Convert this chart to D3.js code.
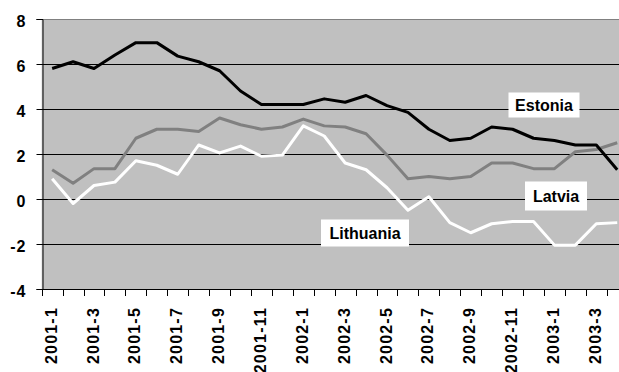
<!DOCTYPE html>
<html>
<head>
<meta charset="utf-8">
<script src="https://cdn.jsdelivr.net/npm/d3@7"></script>
<style>
  html, body { margin: 0; padding: 0; background: #fff; }
  svg { display: block; }
  svg text { font-family: "Liberation Sans", Arial, sans-serif; font-weight: 700; }
</style>
</head>
<body>
<svg id="chart" width="619" height="372"></svg>
<script>
// months shown on the category axis
var months = [
  '2001-1', '2001-2', '2001-3', '2001-4', '2001-5', '2001-6', '2001-7', '2001-8', '2001-9', '2001-10', '2001-11', '2001-12',
  '2002-1', '2002-2', '2002-3', '2002-4', '2002-5', '2002-6', '2002-7', '2002-8', '2002-9', '2002-10', '2002-11', '2002-12',
  '2003-1', '2003-2', '2003-3', '2003-4'
];

var estonia = [5.8, 6.1, 5.8, 6.4, 6.95, 6.95, 6.35, 6.1, 5.7, 4.8, 4.2, 4.2,
  4.2, 4.45, 4.3, 4.6, 4.15, 3.85, 3.1, 2.6, 2.7, 3.2, 3.1, 2.7,
  2.6, 2.4, 2.4, 1.3];

var latvia = [1.3, 0.7, 1.35, 1.35, 2.7, 3.1, 3.1, 3.0, 3.6, 3.3, 3.1, 3.2,
  3.55, 3.25, 3.2, 2.9, 1.95, 0.9, 1.0, 0.9, 1.0, 1.6, 1.6, 1.35,
  1.35, 2.1, 2.2, 2.5];

var lithuania = [0.9, -0.2, 0.6, 0.75, 1.7, 1.5, 1.1, 2.4, 2.05, 2.35, 1.9, 1.95,
  3.25, 2.8, 1.6, 1.3, 0.5, -0.5, 0.1, -1.05, -1.5, -1.1, -1.0, -1.0,
  -2.05, -2.05, -1.1, -1.05];

var yTicks = [-4, -2, 0, 2, 4, 6, 8];

var Chart = new function() {
  var left = 41.7, right = 627.7, top = 19, bottom = 289;
  var font = '"Liberation Sans", Arial, sans-serif';

  this.render = function() {
    var svg = d3.select('#chart');

    var x = d3.scaleBand().domain(months).range([left, right]);
    var y = d3.scaleLinear().domain([-4, 8]).range([bottom, top]);

    // plot background
    svg.append('rect')
      .attr('x', left).attr('y', top)
      .attr('width', right - left).attr('height', bottom - top)
      .attr('fill', '#c0c0c0');

    // gridlines
    svg.append('g').selectAll('line')
      .data(yTicks.filter(function(d) { return d > -4; }))
      .enter().append('line')
      .attr('x1', left).attr('x2', right)
      .attr('y1', function(d) { return Math.round(y(d)) + 0.5; })
      .attr('y2', function(d) { return Math.round(y(d)) + 0.5; })
      .attr('stroke', function(d) { return d === 8 ? '#808080' : '#000'; })
      .attr('stroke-width', 1);

    // y axis (plain hyphen for negatives, like the original)
    var yAxis = svg.append('g')
      .attr('transform', 'translate(' + (Math.round(left) + 0.5) + ',0)')
      .call(d3.axisLeft(y).tickValues(yTicks).tickSize(6).tickPadding(10)
        .tickFormat(function(d) { return String(d); }));
    yAxis.attr('font-family', font).attr('font-size', 16).attr('font-weight', 700);
    yAxis.select('.domain').attr('stroke', '#000');
    yAxis.selectAll('.tick line').attr('stroke', '#000');
    yAxis.selectAll('.tick text')
      .attr('font-size', 16).attr('font-weight', 700)
      .attr('font-family', font)
      .attr('letter-spacing', 1)
      .attr('fill', '#000').attr('dy', '0.45em');

    // x axis line and ticks at band edges
    var xAxis = svg.append('g');
    xAxis.append('line')
      .attr('x1', left).attr('x2', right)
      .attr('y1', Math.round(bottom) + 0.5).attr('y2', Math.round(bottom) + 0.5)
      .attr('stroke', '#000');
    xAxis.selectAll('line.tk')
      .data(months.concat(['end']))
      .enter().append('line')
      .attr('class', 'tk')
      .attr('x1', function(d) { return Math.round(d === 'end' ? right : x(d)) + 0.5; })
      .attr('x2', function(d) { return Math.round(d === 'end' ? right : x(d)) + 0.5; })
      .attr('y1', bottom).attr('y2', bottom + 7)
      .attr('stroke', '#000');

    xAxis.selectAll('text')
      .data(months.filter(function(d, i) { return i % 2 === 0; }))
      .enter().append('text')
      .attr('transform', function(d) {
        return 'translate(' + (x(d) + x.bandwidth() / 2 + 4.5) + ',307) rotate(-90)';
      })
      .attr('text-anchor', 'end')
      .attr('font-family', font)
      .attr('font-weight', 700)
      .attr('font-size', 16)
      .attr('letter-spacing', 1.2)
      .attr('fill', '#000')
      .text(function(d) { return d; });

    // series lines
    var series = [
      { name: 'Latvia', values: latvia, color: '#808080' },
      { name: 'Lithuania', values: lithuania, color: '#ffffff' },
      { name: 'Estonia', values: estonia, color: '#000000' }
    ];

    var line = d3.line()
      .x(function(d, i) { return x(months[i]) + x.bandwidth() / 2; })
      .y(function(d) { return y(d); });

    svg.append('g').selectAll('path')
      .data(series)
      .enter().append('path')
      .attr('d', function(s) { return line(s.values); })
      .attr('fill', 'none')
      .attr('stroke', function(s) { return s.color; })
      .attr('stroke-width', 3)
      .attr('stroke-linejoin', 'round');

    // series labels in white boxes
    var labels = [
      { text: 'Estonia', cx: 544, cy: 105, w: 71, h: 25 },
      { text: 'Latvia', cx: 556, cy: 196, w: 62, h: 29 },
      { text: 'Lithuania', cx: 365, cy: 233, w: 88, h: 27 }
    ];

    var lab = svg.append('g').selectAll('g')
      .data(labels)
      .enter().append('g');
    lab.append('rect')
      .attr('x', function(d) { return d.cx - d.w / 2; })
      .attr('y', function(d) { return d.cy - d.h / 2; })
      .attr('width', function(d) { return d.w; })
      .attr('height', function(d) { return d.h; })
      .attr('fill', '#fff');
    lab.append('text')
      .attr('x', function(d) { return d.cx; })
      .attr('y', function(d) { return d.cy; })
      .attr('dy', '0.36em')
      .attr('text-anchor', 'middle')
      .attr('font-family', font)
      .attr('font-weight', 700)
      .attr('font-size', 16)
      .attr('fill', '#000')
      .text(function(d) { return d.text; });
  };
};

Chart.render();
</script>
</body>
</html>
